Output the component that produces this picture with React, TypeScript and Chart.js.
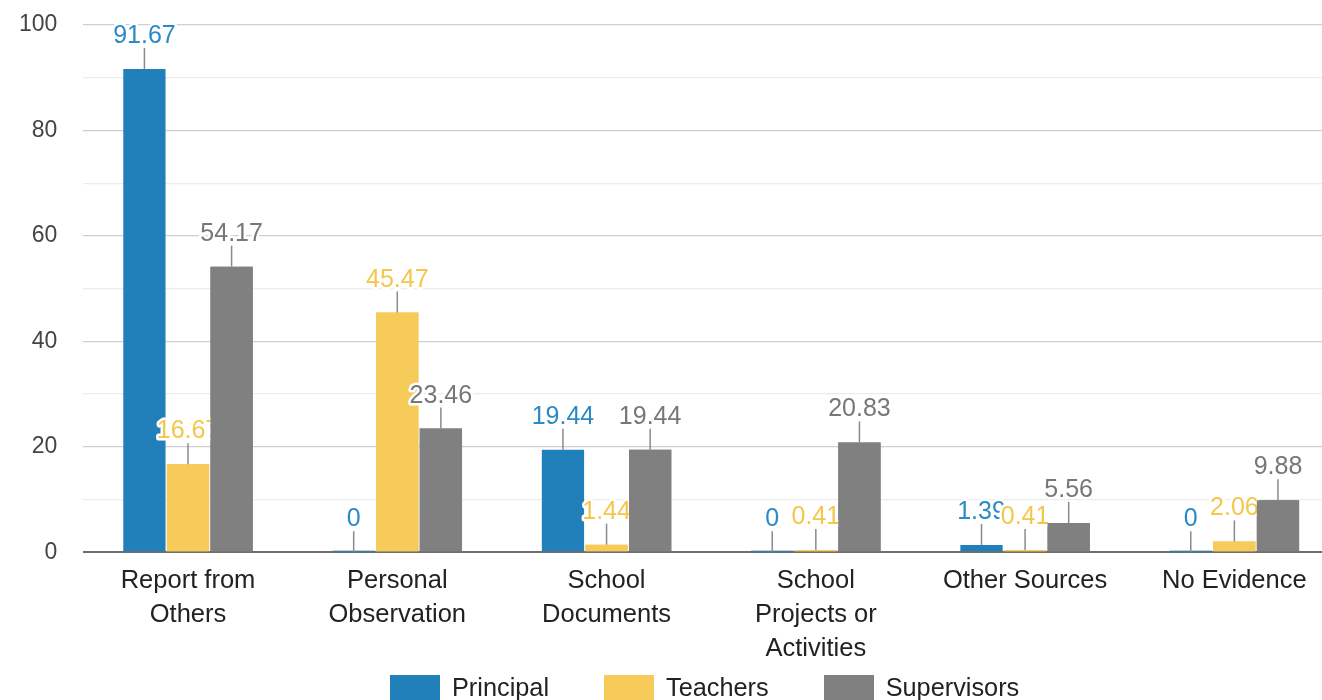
import React, { useEffect, useRef } from "react";
import { Chart, registerables } from "chart.js";

Chart.register(...registerables);

const categories: (string | string[])[] = [
  ["Report from", "Others"],
  ["Personal", "Observation"],
  ["School", "Documents"],
  ["School", "Projects or", "Activities"],
  "Other Sources",
  "No Evidence",
];
const principal = [91.67, 0, 19.44, 0, 1.39, 0];
const teachers = [16.67, 45.47, 1.44, 0.41, 0.41, 2.06];
const supervisors = [54.17, 23.46, 19.44, 20.83, 5.56, 9.88];
const seriesNames = ["Principal", "Teachers", "Supervisors"];
const barColors = ["#2180BA", "#F6CB5A", "#808080"];
const labelColors = ["#2A8AC6", "#F4C64A", "#777777"];

const FONT = "'Liberation Sans', Arial, Helvetica, sans-serif";

const labelPlugin = {
  id: "whiskerLabels",
  afterDatasetsDraw(chart: any) {
    const ctx = chart.ctx;
    const yScale = chart.scales.y;
    const base = yScale.getPixelForValue(0);
    const n = chart.data.datasets.length;
    for (let i = 0; i < n; i++) {
      if (i > 0) {
        const m = chart.getDatasetMeta(i);
        m.data.forEach((el: any) => el.draw(ctx, chart.chartArea));
      }
      const meta = chart.getDatasetMeta(i);
      const ds = chart.data.datasets[i];
      meta.data.forEach((el: any, j: number) => {
        const v = ds.data[j] as number;
        const x = el.x;
        const top = el.y;
        ctx.save();
        if (v === 0) {
          ctx.fillStyle = barColors[i];
          ctx.globalAlpha = 0.45;
          ctx.fillRect(x - el.width / 2, base - 2, el.width, 2);
          ctx.globalAlpha = 1;
        }
        ctx.strokeStyle = "#8a8a8a";
        ctx.lineWidth = 1.5;
        ctx.beginPath();
        ctx.moveTo(x, top);
        ctx.lineTo(x, top - 21);
        ctx.stroke();
        ctx.font = `25px ${FONT}`;
        ctx.textAlign = "center";
        ctx.textBaseline = "alphabetic";
        ctx.lineJoin = "round";
        ctx.lineWidth = 5;
        ctx.strokeStyle = "#ffffff";
        const txt = String(v);
        ctx.strokeText(txt, x, top - 26);
        ctx.fillStyle = labelColors[i];
        ctx.fillText(txt, x, top - 26);
        ctx.restore();
      });
    }
  },
};

export default function App() {
  const ref = useRef<HTMLCanvasElement | null>(null);
  useEffect(() => {
    if (!ref.current) return;
    const chart = new Chart(ref.current, {
      type: "bar",
      data: {
        labels: categories,
        datasets: [principal, teachers, supervisors].map((d, i) => ({
          label: seriesNames[i],
          data: d,
          backgroundColor: barColors[i],
          borderWidth: 0,
          categoryPercentage: 0.625,
          barPercentage: 0.97,
        })),
      },
      options: {
        responsive: false,
        animation: false,
        layout: { padding: { top: 25, left: 15, right: 0, bottom: 0 } },
        plugins: { legend: { display: false }, tooltip: { enabled: false } },
        scales: {
          x: {
            grid: { display: false, drawTicks: false },
            border: { display: false },
            ticks: {
              color: "#222",
              font: { family: FONT, size: 25.5, lineHeight: 1.33 },
              padding: 12,
              maxRotation: 0,
              autoSkip: false,
            },
          },
          y: {
            min: 0,
            max: 100,
            border: { display: false },
            grid: {
              drawTicks: true,
              tickLength: 22,
              tickColor: "rgba(0,0,0,0)",
              color: (c: any) =>
                c.tick.value === 0 ? "#6e6e6e" : c.tick.value % 20 === 0 ? "#cfcfcf" : "#ececec",
              lineWidth: (c: any) => (c.tick.value === 0 ? 2 : 1.2),
            },
            ticks: {
              stepSize: 10,
              color: "#444",
              font: { family: FONT, size: 23 },
              padding: 4,
              callback: (v: any) => (Number(v) % 20 === 0 ? String(v) : ""),
            },
          },
        },
      },
      plugins: [labelPlugin],
    });
    return () => chart.destroy();
  }, []);

  const legendItems = seriesNames.map((n, i) => (
    <div key={n} style={{ display: "flex", alignItems: "flex-start", marginRight: i < 2 ? 55 : 0 }}>
      <div style={{ width: 50, height: 28, background: barColors[i], marginRight: 12 }} />
      <span style={{ fontSize: 25.3, lineHeight: "25px", color: "#222", fontFamily: FONT, marginTop: 0 }}>{n}</span>
    </div>
  ));

  return (
    <div style={{ position: "absolute", left: 0, top: 0, width: 1322, height: 700, overflow: "hidden", background: "#fff" }}>
      <canvas ref={ref} width={1339} height={678} style={{ display: "block", position: "absolute", left: 0, top: 0 }} />
      <div style={{ position: "absolute", left: 390, top: 675, display: "flex" }}>{legendItems}</div>
    </div>
  );
}
